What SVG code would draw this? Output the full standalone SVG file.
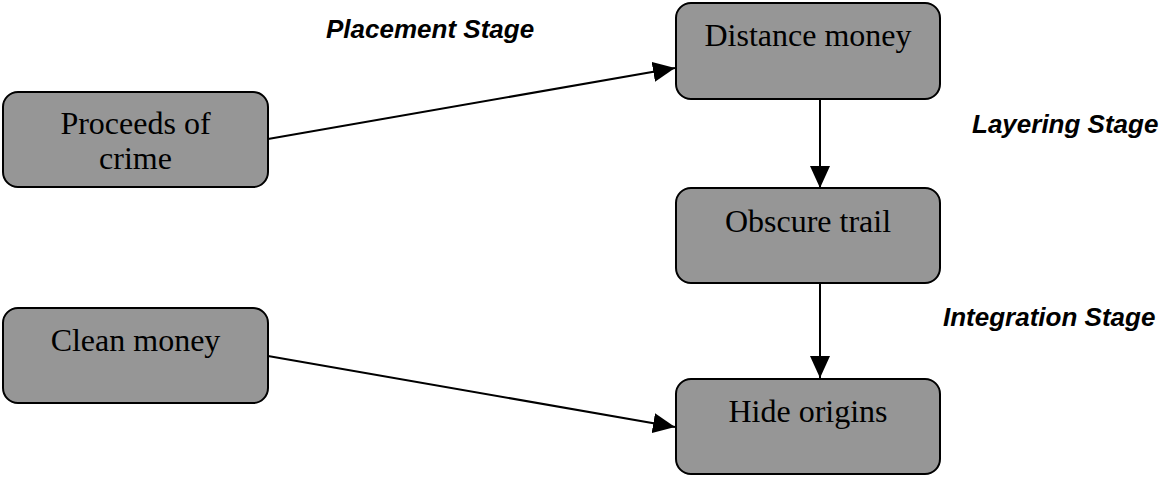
<svg xmlns="http://www.w3.org/2000/svg" width="1160" height="477" viewBox="0 0 1160 477">
<style>
.box{fill:#969696;stroke:#000;stroke-width:2}
.t{font-family:"Liberation Serif","Times New Roman",serif;font-size:32px;fill:#000;text-anchor:middle}
.lbl{font-family:"Liberation Sans",Arial,sans-serif;font-size:26px;font-weight:bold;font-style:italic;fill:#000}
.c{stroke:#000;stroke-width:2;fill:none;marker-end:url(#ah)}
</style>
<defs>
<marker id="ah" markerUnits="userSpaceOnUse" markerWidth="24" markerHeight="20" viewBox="0 0 24 20" refX="22" refY="10" orient="auto">
<path d="M0,0 L22,10 L0,20 Z" fill="#000"/>
</marker>
</defs>
<rect width="1160" height="477" fill="#fff"/>
<g id="connectors">
<line class="c" x1="268" y1="139" x2="675" y2="68"/>
<line class="c" x1="820" y1="99" x2="820" y2="188"/>
<line class="c" x1="820" y1="283" x2="820" y2="378"/>
<line class="c" x1="268" y1="356" x2="675" y2="427"/>
</g>
<g id="proceeds">
<rect class="box" x="3" y="92" width="265" height="95" rx="15"/>
<text class="t" x="135.5" y="134">Proceeds of</text>
<text class="t" x="135.5" y="169">crime</text>
</g>
<g id="clean">
<rect class="box" x="3" y="308" width="265" height="95" rx="15"/>
<text class="t" x="135.5" y="351">Clean money</text>
</g>
<g id="distance">
<rect class="box" x="676" y="3" width="264" height="96" rx="15"/>
<text class="t" x="808" y="46">Distance money</text>
</g>
<g id="obscure">
<rect class="box" x="676" y="188" width="264" height="95" rx="15"/>
<text class="t" x="808" y="232">Obscure trail</text>
</g>
<g id="hide">
<rect class="box" x="676" y="379" width="264" height="95" rx="15"/>
<text class="t" x="808" y="422">Hide origins</text>
</g>
<g id="labels">
<text class="lbl" x="326" y="38">Placement Stage</text>
<text class="lbl" x="972" y="133">Layering Stage</text>
<text class="lbl" x="943" y="326">Integration Stage</text>
</g>
</svg>
